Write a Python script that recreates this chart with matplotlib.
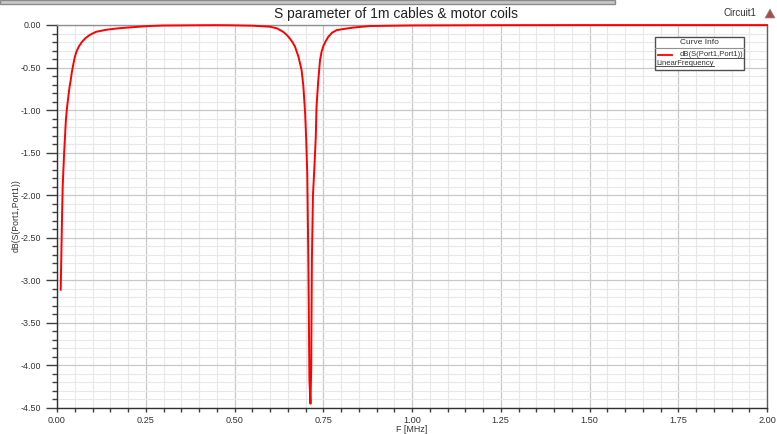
import matplotlib
matplotlib.use("Agg")
import matplotlib.pyplot as plt
from matplotlib.patches import Rectangle, Polygon
from matplotlib.lines import Line2D
from matplotlib.ticker import MultipleLocator, FormatStrFormatter

plt.rcParams['font.family'] = ['Liberation Sans', 'DejaVu Sans']

title = "S parameter of 1m cables & motor coils"
xlabel = "F [MHz]"
ylabel = "dB(S(Port1,Port1))"
legend_title = "Curve Info"
legend_curve = "dB(S(Port1,Port1))"
legend_sweep = "LinearFrequency"
circuit_name = "Circuit1"

freq_mhz = [0.0104, 0.012, 0.014, 0.016, 0.020, 0.025, 0.028, 0.032, 0.035, 0.0385,
            0.042, 0.046, 0.050, 0.055, 0.062, 0.070, 0.080, 0.093, 0.11, 0.14,
            0.17, 0.205, 0.26, 0.30, 0.40, 0.45, 0.50, 0.55, 0.60, 0.62,
            0.637, 0.648, 0.656, 0.663, 0.670, 0.680, 0.689, 0.694, 0.699, 0.702,
            0.705, 0.708, 0.711, 0.714, 0.716, 0.718, 0.721, 0.725, 0.729, 0.731,
            0.736, 0.741, 0.745, 0.750, 0.757, 0.764, 0.775, 0.788, 0.81, 0.835,
            0.882, 1.00, 1.25, 1.50, 1.75, 2.00]
s11_db = [-3.11, -2.76, -2.29, -1.90, -1.51, -1.12, -0.98, -0.84, -0.74, -0.65,
          -0.55, -0.46, -0.38, -0.31, -0.25, -0.20, -0.155, -0.115, -0.08, -0.055,
          -0.04, -0.028, -0.012, -0.006, -0.003, -0.002, -0.004, -0.008, -0.02, -0.04,
          -0.08, -0.12, -0.16, -0.20, -0.25, -0.37, -0.53, -0.72, -1.04, -1.35,
          -1.75, -2.76, -4.17, -4.45, -4.05, -2.76, -2.00, -1.68, -1.31, -0.96,
          -0.65, -0.41, -0.32, -0.25, -0.19, -0.14, -0.09, -0.06, -0.045, -0.03,
          -0.012, -0.005, -0.002, -0.001, -0.001, -0.001]

W, H = 777, 434
fig = plt.figure(figsize=(W / 100, H / 100), dpi=100)
fig.patch.set_facecolor('white')

def fx(px):
    return px / W

def fy(py):
    return 1 - py / H

PT = 0.72  # points per pixel at 100 dpi

ax_l, ax_r, ax_t, ax_b = 57, 767, 25, 408
ax = fig.add_axes([fx(ax_l), fy(ax_b), fx(ax_r - ax_l), (ax_b - ax_t) / H])

ax.plot(freq_mhz, s11_db, color='#ff0000', lw=1.4, zorder=5, clip_on=False)
ax.set_xlim(0, 2.0)
ax.set_ylim(-4.5, 0)

ax.xaxis.set_major_locator(MultipleLocator(0.25))
ax.xaxis.set_minor_locator(MultipleLocator(0.05))
ax.yaxis.set_major_locator(MultipleLocator(0.5))
ax.yaxis.set_minor_locator(MultipleLocator(0.1))
ax.xaxis.set_major_formatter(FormatStrFormatter('%.2f'))
ax.yaxis.set_major_formatter(FormatStrFormatter('%.2f'))

ax.grid(which='major', color='#c8c8c8', lw=0.9)
ax.grid(which='minor', color='#e8e8e8', lw=0.8)
ax.set_axisbelow(True)

ax.tick_params(axis='y', which='major', length=11 * PT, width=1, color='#404040',
               labelsize=6.4, labelcolor='#333333', pad=5 * PT)
ax.tick_params(axis='y', which='minor', length=5 * PT, width=1, color='#404040')
ax.tick_params(axis='x', which='major', length=4 * PT, width=1, color='#404040',
               labelsize=6.6, labelcolor='#333333', pad=4 * PT)
ax.tick_params(axis='x', which='minor', length=4 * PT, width=1, color='#404040')

ax.spines['left'].set_color('#303030')
ax.spines['bottom'].set_color('#303030')
ax.spines['right'].set_color('#606060')
ax.spines['top'].set_color('#909090')
for s in ax.spines.values():
    s.set_linewidth(1.0)

fig.text(fx(412), fy(429.5), xlabel, ha='center', va='center', fontsize=6.4, color='#333333')
fig.text(fx(16), fy(216), ylabel, ha='center', va='center', rotation=90,
         fontsize=6.3, color='#333333')

fig.text(fx(396), fy(14), title, ha='center', va='center', fontsize=10, color='#222222')
fig.text(fx(740), fy(13), circuit_name, ha='center', va='center', fontsize=7, color='#333333')

# logo
fig.patches.append(Polygon([[fx(765), fy(18)], [fx(775), fy(18)], [fx(770), fy(9)]],
                           closed=True, transform=fig.transFigure, facecolor='#b04848',
                           edgecolor='#909090', lw=0.5))

# window bar at top
fig.patches.append(Rectangle((fx(0), fy(4)), fx(615), 4 / H, transform=fig.transFigure,
                             facecolor='#c8c8c8', edgecolor='#8a8a8a', lw=1))

# legend box
lx0, lx1, ly0, ly1 = 655, 744, 37, 70
fig.patches.append(Rectangle((fx(lx0), fy(ly1)), fx(lx1 - lx0), (ly1 - ly0) / H,
                             transform=fig.transFigure, facecolor='white',
                             edgecolor='#505050', lw=1, zorder=10))
fig.lines.append(Line2D([fx(lx0), fx(lx1)], [fy(48), fy(48)], transform=fig.transFigure,
                        color='#909090', lw=0.8, zorder=11))
fig.text(fx((lx0 + lx1) / 2), fy(43), legend_title, ha='center', va='center',
         fontsize=6, color='#333333', zorder=12)
fig.lines.append(Line2D([fx(658), fx(672)], [fy(55), fy(55)], transform=fig.transFigure,
                        color='#ff0000', lw=1.3, zorder=12))
t1 = fig.text(fx(680), fy(55), legend_curve, ha='left', va='center',
              fontsize=5.5, color='#333333', zorder=12)
t2 = fig.text(fx(656), fy(63.5), legend_sweep, ha='left', va='center',
              fontsize=5.5, color='#333333', zorder=12)

fig.canvas.draw()
r = fig.canvas.get_renderer()
for t in (t1, t2):
    bb = t.get_window_extent(renderer=r)
    x0, x1 = bb.x0 / fig.bbox.width, bb.x1 / fig.bbox.width
    yb = (bb.y0 + 1) / fig.bbox.height
    fig.lines.append(Line2D([x0, x1], [yb, yb], transform=fig.transFigure,
                            color='#333333', lw=0.6, zorder=12))

fig.savefig('out.png', dpi=100, facecolor='white')
